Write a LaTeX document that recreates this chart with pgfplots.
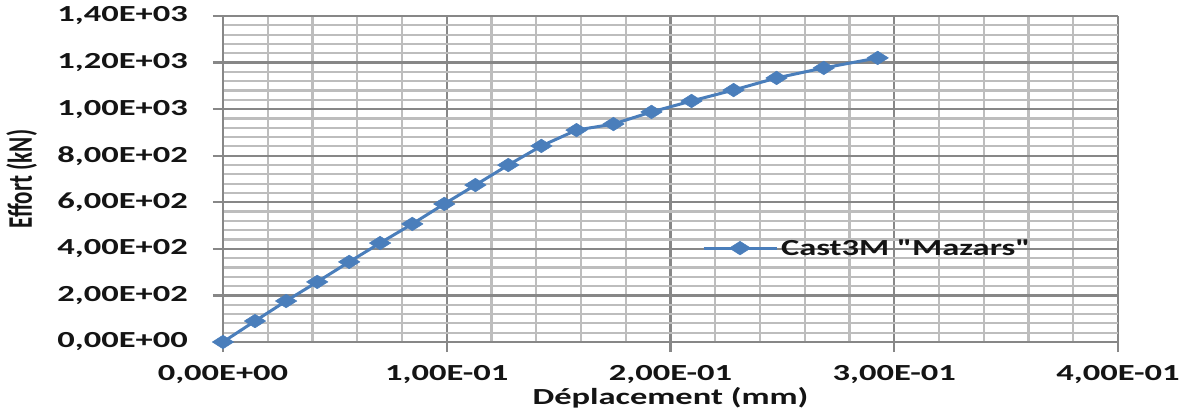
\documentclass[border=0pt]{standalone}
\usepackage{fontspec}
\setmainfont{Carlito}[FakeStretch=1.5, Ligatures=TeXOff]
\newfontfamily\plainfont{Carlito}
\usepackage{pgfplots}
\pgfplotsset{compat=1.18}
\definecolor{serie}{HTML}{4A7EBB}
\definecolor{gridmaj}{HTML}{878787}
\definecolor{gridmin}{HTML}{BDBDBD}
\definecolor{txt}{HTML}{141414}
\begin{document}
\begin{tikzpicture}
\begin{axis}[
  name=ax,
  scale only axis, width=895bp, height=326bp,
  xmin=0, xmax=0.4, ymin=0, ymax=1400,
  xtick={0,0.1,0.2,0.3,0.4},
  xticklabels={{0,00E+00},{1,00E-01},{2,00E-01},{3,00E-01},{4,00E-01}},
  ytick={0,200,400,600,800,1000,1200,1400},
  yticklabels={{0,00E+00},{2,00E+02},{4,00E+02},{6,00E+02},{8,00E+02},{1,00E+03},{1,20E+03},{1,40E+03}},
  minor x tick num=4, minor y tick num=4,
  grid=both,
  major grid style={line width=2.2bp, draw=gridmaj},
  minor grid style={line width=2.2bp, draw=gridmin},
  axis lines=left,
  axis line style={-, line width=2.2bp, draw=gridmaj},
  tick align=outside,
  major tick length=10bp, minor tick length=0bp,
  tick style={line width=2.2bp, draw=gridmaj},
  ticklabel style={font=\fontsize{23bp}{27bp}\selectfont\bfseries, text=txt},
  yticklabel style={anchor=east, inner sep=0pt, xshift=-25bp},
  xticklabel style={anchor=north, inner sep=0pt, yshift=-13bp},
  xlabel={Déplacement (mm)},
  ylabel={\scalebox{1}[1.5]{\plainfont\bfseries Effort (kN)}},
  label style={font=\fontsize{23bp}{27bp}\selectfont\bfseries, text=txt, inner sep=0pt},
  xlabel style={at={(axis description cs:0.5,-0.172)}, anchor=center},
  ylabel style={at={(axis description cs:-0.225,0.5)}, anchor=center},
  legend style={at={(axis description cs:0.535,0.288)}, anchor=west, draw=none, fill=none, inner sep=0pt,
    nodes={inner sep=3bp, text=txt, font=\fontsize{23bp}{27bp}\selectfont\bfseries}},
  legend image code/.code={\draw[mark repeat=2,mark phase=2,#1] plot coordinates {(0bp,0bp) (36.5bp,0bp) (73bp,0bp)};},
]
\addplot[color=serie, line width=3bp, mark=diamond*, mark size=6.8bp,
  mark options={xscale=2.1, solid, fill=serie, draw=serie, line width=0.5bp}]
coordinates {
(0,0)
(0.0143,90)
(0.0282,176)
(0.0421,258)
(0.0564,344)
(0.0702,425)
(0.0846,507)
(0.0989,593)
(0.1128,674)
(0.1275,760)
(0.1423,842)
(0.158,910)
(0.1745,936)
(0.1915,988)
(0.2094,1035)
(0.2282,1082)
(0.2474,1134)
(0.2685,1177)
(0.2926,1220)
};
\addlegendentry{Cast3M "Mazars"}
\end{axis}
\pgfresetboundingbox
\useasboundingbox ([xshift=-223bp,yshift=-74bp]ax.south west) rectangle ([xshift=69bp,yshift=16bp]ax.north east);
\end{tikzpicture}
\end{document}
